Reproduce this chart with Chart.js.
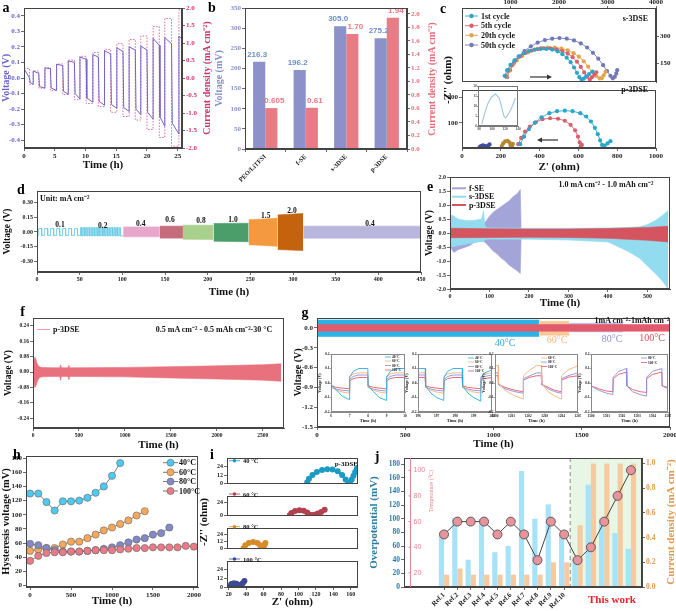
<!DOCTYPE html>
<html>
<head>
<meta charset="utf-8">
<title>Solid electrolyte cycling figure</title>
<script src="https://cdn.jsdelivr.net/npm/chart.js@4.4.1/dist/chart.umd.min.js"></script>
<style>
  html, body { margin: 0; padding: 0; background: #fff; }
  body { position: relative; width: 676px; height: 611px; overflow: hidden; }
  canvas, svg { position: absolute; }
</style>
</head>
<body>
<script>
// ---------- (a) voltage / current density steps ----------
const aXMax = 25.7;
const aTimeTicks = [0, 5, 10, 15, 20, 25];
const aVoltTicks = [-0.4, -0.3, -0.2, -0.1, 0, 0.1, 0.2, 0.3, 0.4];
const aCurTicks = [-2, -1.5, -1, -0.5, 0, 0.5, 1, 1.5, 2];
const aRise  = [0, 1.5, 3.4, 5.3, 7.2, 9.1, 11.2, 13.1, 15.1, 17.1, 19.0, 21.0, 22.9, 25.2];
const aDrop  = [0.9, 2.4, 4.3, 6.3, 8.2, 10.1, 12.1, 14.1, 16.1, 18.1, 20.0, 22.0, 24.0];
const aPosHi = [0.06, 0.045, 0.065, 0.088, 0.11, 0.135, 0.15, 0.175, 0.195, 0.2, 0.205, 0.255, 0.26, 0.27];
const aPosLo = [0.0, 0.03, 0.06, 0.08, 0.1, 0.12, 0.135, 0.155, 0.17, 0.18, 0.18, 0.21, 0.22, 0.25];
const aNegHi = [-0.03, -0.055, -0.065, -0.085, -0.1, -0.13, -0.15, -0.17, -0.19, -0.2, -0.22, -0.25, -0.29];
const aNegLo = [-0.04, -0.065, -0.08, -0.105, -0.135, -0.155, -0.175, -0.195, -0.215, -0.235, -0.265, -0.31, -0.36];
const aCurPos = [0.27, 0.2, 0.29, 0.4, 0.51, 0.62, 0.73, 0.82, 0.98, 1.1, 1.2, 1.47, 1.7, 1.95];
const aCurNeg = [0.18, 0.29, 0.36, 0.47, 0.62, 0.73, 0.82, 0.98, 1.1, 1.2, 1.47, 1.7, 1.95];

// ---------- (b) bars ----------
const bCats = ['PEO/LiTFSI', 'f-SE', 's-3DSE', 'p-3DSE'];
const bVolt = [216.3, 196.2, 305.0, 275.2];
const bCur = [0.605, 0.61, 1.70, 1.94];
const bVoltText = ['216.3', '196.2', '305.0', '275.2'];
const bCurText = ['0.605', '0.61', '1.70', '1.94'];
const bVoltTicks = [0, 50, 100, 150, 200, 250, 300, 350];
const bCurTicks = [0, 0.2, 0.4, 0.6, 0.8, 1.0, 1.2, 1.4, 1.6, 1.8, 2.0];

// ---------- (c) impedance ----------
const cTopXTicks = [1000, 2000, 3000, 4000];
const cTopYTicks = [150, 300];
const cBotXTicks = [0, 200, 400, 600, 800, 1000];
const cBotYTicks = [100, 200];
const cInsXTicks = [80, 100, 120, 140];
const cInsYTicks = [0, 5, 10, 15, 20];
const cTop1 = [[880,78],[930,110],[1000,140],[1080,165],[1170,188],[1270,205],[1380,218],[1500,226],[1620,230],[1740,230],[1860,226],[1970,216],[2070,200],[2160,180],[2240,155],[2310,125],[2370,95],[2420,70],[2465,57],[2510,62],[2560,75],[2620,88],[2690,102]];
const cTop5 = [[900,75],[950,108],[1020,138],[1100,165],[1200,188],[1310,207],[1430,220],[1560,229],[1690,233],[1820,233],[1950,228],[2070,218],[2180,203],[2280,183],[2370,158],[2450,128],[2520,97],[2580,72],[2637,57],[2680,70],[2730,85],[2770,98]];
const cTop20 = [[920,72],[970,106],[1040,137],[1130,165],[1240,190],[1360,210],[1490,225],[1630,234],[1770,238],[1910,238],[2050,232],[2180,222],[2300,206],[2410,186],[2510,160],[2600,130],[2690,100],[2770,77],[2840,64],[2880,64],[2920,80],[2960,100]];
const cTop50 = [[930,70],[990,110],[1070,150],[1170,185],[1290,218],[1420,245],[1560,265],[1710,280],[1860,288],[2010,291],[2160,288],[2310,278],[2450,261],[2580,238],[2700,208],[2810,175],[2910,138],[2990,105],[3060,78],[3110,64],[3150,72],[3180,90],[3200,110]];
const cBot1 = [[300,15],[320,45],[345,75],[375,100],[410,122],[450,138],[490,146],[530,148],[570,146],[610,138],[640,125],[665,105],[685,80],[700,55],[712,30],[722,12],[735,10],[750,18],[765,27]];
const cBot5 = [[290,15],[305,40],[325,65],[350,85],[380,102],[415,114],[454,118],[495,116],[530,108],[560,92],[583,70],[598,45],[607,22],[612,8],[618,12]];
const cBot20 = [[205,8],[212,18],[222,26],[235,28],[245,22],[250,12],[253,6],[258,10],[262,16]];
const cBot50 = [[90,3],[97,8],[107,11],[117,9],[123,4],[128,5],[135,10],[142,14]];
const cIns = [[84,1],[88,6],[93,11],[99,14.5],[105,16],[111,14],[115,9],[118,5],[121,4],[125,6],[130,9],[136,14]];

// ---------- (d) rate steps ----------
const dTimeTicks = [0, 50, 100, 150, 200, 250, 300, 350, 400, 450];
const dVoltTicks = [-0.3, -0.15, 0, 0.15, 0.3];
const d01Rise = [2, 9, 16, 23, 30, 37, 44];
const d01Fall = [5.5, 12.5, 19.5, 26.5, 33.5, 40.5, 47.5];
const d01Hi = 0.035, d01Lo = -0.035;
const d02Rise = [51, 54, 57, 60, 63, 66, 69, 72, 75, 78, 81, 84, 87, 90, 93, 96];
const d02Fall = [52.5, 55.5, 58.5, 61.5, 64.5, 67.5, 70.5, 73.5, 76.5, 79.5, 82.5, 85.5, 88.5, 91.5, 94.5, 97.5];
const d02Hi = 0.045, d02Lo = -0.04;
const dBandStart = [101, 144, 171, 207, 248, 282, 312];
const dBandEnd   = [144, 171, 207, 248, 282, 312, 450];
const dBandHi0 = [0.052, 0.06, 0.07, 0.087, 0.125, 0.175, 0.06];
const dBandHi1 = [0.052, 0.06, 0.07, 0.09, 0.14, 0.19, 0.06];
const dBandLo0 = [-0.05, -0.063, -0.075, -0.095, -0.13, -0.18, -0.063];
const dBandLo1 = [-0.05, -0.063, -0.077, -0.1, -0.147, -0.19, -0.063];
const dRateText = ['0.1', '0.2', '0.4', '0.6', '0.8', '1.0', '1.5', '2.0', '0.4'];

// ---------- (e) long cycling 1.0 mA cm-2 ----------
const eTimeTicks = [0, 100, 200, 300, 400, 500];
const eVoltTicks = [-2, -1.5, -1, -0.5, 0, 0.5, 1, 1.5, 2];
const eFseT  = [0, 5, 10, 20, 30, 40, 50, 60, 70, 80, 85, 90, 100, 110, 120, 130, 140, 150, 160, 170, 178, 180];
const eFseHi = [0.3, 0.35, 0.3, 0.3, 0.3, 0.25, 0.3, 0.3, 0.3, 0.3, 0.35, 0.4, 0.6, 0.75, 0.85, 0.95, 1.05, 1.15, 1.3, 1.4, 1.55, 0.2];
const eFseLo = [-0.4, -0.6, -0.7, -0.6, -0.55, -0.5, -0.45, -0.35, -0.3, -0.3, -0.3, -0.35, -0.5, -0.65, -0.75, -0.9, -1.0, -1.15, -1.25, -1.35, -1.45, -0.2];
const eS3T  = [0, 5, 20, 40, 60, 80, 85, 88, 92, 100, 200, 300, 400, 450, 480, 500, 520, 540, 552];
const eS3Hi = [0.5, 0.65, 0.5, 0.45, 0.45, 0.5, 0.8, 0.3, 0.2, 0.18, 0.17, 0.17, 0.18, 0.2, 0.22, 0.3, 0.45, 0.65, 0.8];
const eS3Lo = [-0.3, -0.5, -0.45, -0.4, -0.35, -0.3, -0.3, -0.25, -0.22, -0.22, -0.22, -0.25, -0.32, -0.65, -0.9, -1.18, -1.45, -1.75, -2.0];
const eP3T  = [0, 100, 200, 300, 400, 500, 552];
const eP3Hi = [0.17, 0.15, 0.14, 0.14, 0.16, 0.2, 0.24];
const eP3Lo = [-0.17, -0.16, -0.15, -0.16, -0.19, -0.26, -0.32];

// ---------- (f) p-3DSE 2700 h ----------
const fTimeTicks = [0, 500, 1000, 1500, 2000, 2500];
const fVoltTicks = [-0.24, -0.16, -0.08, 0, 0.08, 0.16, 0.24];
const fT  = [0, 10, 20, 30, 40, 50, 60, 80, 100, 200, 290, 300, 310, 320, 380, 390, 400, 500, 1000, 1500, 2000, 2500, 2700];
const fHi = [0.02, 0.06, 0.077, 0.07, 0.05, 0.04, 0.03, 0.026, 0.024, 0.022, 0.022, 0.037, 0.022, 0.022, 0.022, 0.035, 0.022, 0.022, 0.024, 0.028, 0.032, 0.038, 0.043];
const fLo = [-0.02, -0.05, -0.08, -0.075, -0.06, -0.045, -0.035, -0.027, -0.025, -0.023, -0.023, -0.043, -0.023, -0.023, -0.023, -0.04, -0.023, -0.023, -0.025, -0.031, -0.036, -0.042, -0.048];

// ---------- (g) temperature cycling ----------
const gTimeTicks = [0, 500, 1000, 1500, 2000];
const gVoltTicks = [-1.5, -1.2, -0.9, -0.6, -0.3, 0];
const g40T = [0, 1260], g40Hi = [0.12, 0.12], g40Lo = [-0.13, -0.13];
const g60T = [1260, 1430], g60Hi = [0.1, 0.1], g60Lo = [-0.11, -0.11];
const g80T = [1430, 1735], g80Hi = [0.07, 0.07], g80Lo = [-0.06, -0.06];
const g100T = [0, 2000], g100Hi = [0.05, 0.05], g100Lo = [-0.05, -0.05];
const gInsVoltTicks = [-0.2, -0.1, 0, 0.1, 0.2];
const ins1Ticks = [6, 7, 8, 9, 10];
const ins1T = [6, 6.3, 6.6, 6.99, 7.01, 7.2, 7.5, 7.99, 8.01, 8.3, 8.6, 8.99, 9.01, 9.2, 9.5, 10];
const ins1V40  = [-0.01, -0.05, -0.09, -0.115, 0.04, 0.08, 0.1, 0.1, -0.02, -0.06, -0.1, -0.12, 0.04, 0.08, 0.1, 0.1];
const ins1V60  = [-0.03, -0.05, -0.062, -0.07, 0.045, 0.062, 0.07, 0.07, -0.03, -0.05, -0.062, -0.07, 0.045, 0.062, 0.07, 0.07];
const ins1V80  = [-0.03, -0.042, -0.05, -0.055, 0.025, 0.045, 0.055, 0.055, -0.03, -0.042, -0.05, -0.055, 0.025, 0.045, 0.055, 0.055];
const ins1V100 = [-0.02, -0.03, -0.035, -0.04, 0.015, 0.03, 0.038, 0.038, -0.02, -0.03, -0.035, -0.04, 0.015, 0.03, 0.038, 0.038];
const ins2Ticks = [196, 197, 198, 199, 200];
const ins2T = [196, 196.39, 196.41, 196.7, 197.0, 197.39, 197.41, 197.6, 197.9, 198.39, 198.41, 198.7, 199.0, 199.39, 199.41, 199.6, 200];
const ins2V40  = [0.1, 0.1, -0.02, -0.07, -0.1, -0.12, 0.04, 0.08, 0.1, 0.1, -0.02, -0.07, -0.1, -0.125, 0.04, 0.07, 0.09];
const ins2V60  = [0.07, 0.07, -0.03, -0.05, -0.062, -0.07, 0.045, 0.062, 0.07, 0.07, -0.03, -0.05, -0.062, -0.07, 0.045, 0.062, 0.07];
const ins2V80  = [0.055, 0.055, -0.03, -0.042, -0.05, -0.055, 0.025, 0.045, 0.055, 0.055, -0.03, -0.042, -0.05, -0.055, 0.025, 0.045, 0.055];
const ins2V100 = [0.038, 0.038, -0.02, -0.03, -0.035, -0.04, 0.015, 0.03, 0.038, 0.038, -0.02, -0.03, -0.035, -0.04, 0.015, 0.03, 0.038];
const ins3Ticks = [1200, 1201, 1202, 1203, 1204, 1205];
const ins3T = [1200, 1200.19, 1200.21, 1200.6, 1201.2, 1201.69, 1201.71, 1202.1, 1202.5, 1202.79, 1202.81, 1203.2, 1203.6, 1203.99, 1204.01, 1204.4, 1205];
const ins3V60  = [0.12, 0.12, 0.0, -0.05, -0.09, -0.11, 0.05, 0.09, 0.12, 0.12, 0.0, -0.06, -0.09, -0.11, 0.05, 0.09, 0.12];
const ins3V80  = [0.07, 0.07, -0.01, -0.04, -0.06, -0.07, 0.03, 0.05, 0.07, 0.07, -0.01, -0.04, -0.06, -0.07, 0.03, 0.05, 0.07];
const ins3V100 = [0.05, 0.05, -0.01, -0.03, -0.05, -0.06, 0.02, 0.04, 0.05, 0.05, -0.01, -0.03, -0.05, -0.06, 0.02, 0.04, 0.05];
const ins4Ticks = [1500, 1501, 1502, 1503, 1504, 1505];
const ins4T = [1500, 1500.5, 1501.0, 1501.42, 1501.44, 1501.8, 1502.3, 1502.32, 1502.7, 1503.2, 1503.59, 1503.61, 1504.0, 1504.6, 1504.62, 1505];
const ins4V80  = [-0.02, -0.05, -0.07, -0.08, 0.04, 0.08, 0.1, -0.02, -0.06, -0.08, -0.09, 0.04, 0.08, 0.1, -0.02, -0.04];
const ins4V100 = [-0.02, -0.04, -0.055, -0.06, 0.03, 0.06, 0.075, -0.02, -0.045, -0.06, -0.065, 0.03, 0.06, 0.075, -0.02, -0.03];

// ---------- (h) hysteresis voltage ----------
const hTimeTicks = [0, 500, 1000, 1500, 2000];
const hVoltTicks = [0, 20, 40, 60, 80, 100, 120, 140, 160, 180];
const hTime = [0, 100, 200, 300, 400, 500, 600, 700, 800, 900, 1000, 1100, 1200, 1300, 1400, 1500, 1600, 1700, 1800, 1900, 2000];
const h40  = [130, 130, 118, 106, 119, 119, 120, 124, 131, 140, 155, 173];
const h60  = [49, 51, 53, 53, 58, 62, 62, 67, 72, 78, 82, 87, 92, 99, 105];
const h80  = [59, 57, 53, 50, 48, 48, 48, 49, 50, 52, 54, 57, 61, 65, 67, 72, 74, 82];
const h100 = [35, 42, 46, 47, 47, 48, 48, 49, 50, 50, 50, 51, 52, 53, 53, 54, 54, 54, 54, 56, 55];

// ---------- (i) impedance vs temperature ----------
const iZTicks = [20, 40, 60, 80, 100, 120, 140, 160];
const iImTicks = [0, 12, 24];
const i40  = [[110,2],[112,7],[116,12],[121,16],[127,19],[133,20],[139,19.5],[145,17],[150,12],[154,6],[157,1],[159,2],[161,6],[163,11],[165,16],[167,21]];
const i60  = [[90,1],[92,5],[96,8.5],[101,10],[106,9],[110,6],[113,2],[115,0.5],[118,2],[122,4],[126,7],[130,11]];
const i80  = [[37,1],[39,6],[43,10],[48,11.5],[53,10],[56,6],[58,2],[59,1],[60,4],[61,7],[62,10]];
const i100 = [[21,1],[23,4],[26,5],[29,4.5],[31,2],[32,1],[34,3],[36,5],[38,8]];

// ---------- (j) comparison with references ----------
const jLabels = ['Ref.1', 'Ref.2', 'Ref.3', 'Ref.4', 'Ref.5', 'Ref.6', 'Ref.7', 'Ref.8', 'Ref.9', 'Ref.10'];
const jIndex = [0, 1, 2, 3, 4, 5, 6, 7, 8, 9, 10, 11, 12, 13, 14];
const jOverpot = [80, 101, 40, 100, 51, 60, 170, 100, 121, 77, 40, 150, 100, 79, 56];
const jCurrent = [0.1, 0.15, 0.1, 0.1, 0.1, 0.1, 0.1, 0.1, 0.2, 0.2, 0.5, 1.0, 1.0, 1.0, 1.0];
const jTemp = [50, 60, 60, 60, 50, 60, 50, 30, 60, 50, 30, 40, 60, 80, 100];
const jThisWorkFrom = 9.45;
const jOverTicks = [0, 20, 40, 60, 80, 100, 120, 140, 160, 180];
const jTempTicks = [20, 40, 60, 80, 100];
const jCurTicks = [0, 0.2, 0.4, 0.6, 0.8, 1.0];

// ================= helpers =================
Chart.defaults.font.family = "'Liberation Serif', 'Times New Roman', serif";
Chart.defaults.font.weight = 'bold';
Chart.defaults.font.size = 7;
Chart.defaults.color = '#222';
Chart.defaults.animation = false;
Chart.defaults.responsive = false;
Chart.defaults.maintainAspectRatio = false;
Chart.defaults.plugins.legend.display = false;
Chart.defaults.plugins.tooltip.enabled = false;
Chart.defaults.elements.point.radius = 0;
Chart.defaults.elements.line.borderWidth = 1;
Chart.defaults.elements.line.tension = 0;

Chart.register({
  id: 'frame',
  defaults: {color: '#444'},
  afterDraw(chart, args, o) {
    const a = chart.chartArea, g = chart.ctx;
    g.save();
    g.strokeStyle = o.color;
    g.lineWidth = 1;
    g.strokeRect(Math.round(a.left) + 0.5, Math.round(a.top) + 0.5, Math.round(a.right - a.left) - 1, Math.round(a.bottom - a.top) - 1);
    g.restore();
  }
});

function canvas(x, y, w, h) {
  const c = document.createElement('canvas');
  c.width = w; c.height = h;
  c.style.left = x + 'px'; c.style.top = y + 'px';
  c.style.width = w + 'px'; c.style.height = h + 'px';
  document.body.appendChild(c);
  return c;
}

function ax(o, size, at) {
  const s = {
    type: 'linear',
    grid: {drawOnChartArea: false, tickLength: 3, color: '#444', lineWidth: 0.8},
    border: {color: '#444', width: 1},
    ticks: {padding: 1, color: '#222', font: {size: 7}},
    title: {display: false, padding: 0, color: '#111', font: {size: 11}}
  };
  Object.keys(o).forEach(k => {
    const v = o[k];
    s[k] = (s[k] && typeof s[k] === 'object' && v && typeof v === 'object' && !Array.isArray(v)) ? Object.assign({}, s[k], v) : v;
  });
  if (s.type !== 'category' && !s.ticks.callback) s.ticks.callback = v => String(v);
  if (o.title && o.title.text) s.title.display = true;
  s.afterFit = sc => {
    if (size !== undefined) { if (sc.isHorizontal()) sc.height = size; else sc.width = size; }
    sc.paddingTop = sc.paddingBottom = sc.paddingLeft = sc.paddingRight = 0;
  };
  if (at) s.afterBuildTicks = sc => { sc.ticks = at.map(v => ({value: v})); };
  return s;
}

const xy = (xs, ys) => ys.map((y, i) => ({x: xs[i], y}));
const pts = arr => arr.map(p => ({x: p[0], y: p[1]}));
const fix = n => v => v.toFixed(n);

function band(xs, hi, lo, color) {
  return [
    {data: xy(xs, hi), fill: '+1', backgroundColor: color, borderColor: color, borderWidth: 0.6},
    {data: xy(xs, lo), fill: false, borderColor: color, borderWidth: 0.6}
  ];
}
function squareSteps(rise, fall, hi, lo) {
  const p = [];
  rise.forEach((r, k) => { p.push({x: r, y: lo}, {x: r, y: hi}, {x: fall[k], y: hi}, {x: fall[k], y: lo}); });
  return p;
}

// ================= (a) =================
const aVColor = '#6a64cf', aIColor = '#d3336e';
const aV = [], aI = [];
for (let k = 0; k < aRise.length; k++) {
  const end = k < aDrop.length ? aDrop[k] : aXMax;
  aV.push({x: aRise[k], y: aPosHi[k]}, {x: end, y: aPosLo[k]});
  aI.push({x: aRise[k], y: aCurPos[k]}, {x: end, y: aCurPos[k]});
  if (k < aDrop.length) {
    aV.push({x: aDrop[k] + 0.12, y: aNegHi[k]}, {x: aRise[k + 1], y: aNegLo[k]});
    aI.push({x: aDrop[k], y: -aCurNeg[k]}, {x: aRise[k + 1], y: -aCurNeg[k]});
  }
}
new Chart(canvas(0, 0, 210, 175), {
  type: 'line',
  data: {datasets: [
    {data: aV, borderColor: '#7264c8', borderWidth: 1, yAxisID: 'y'},
    {data: aI, borderColor: '#e46a9e', borderWidth: 1, borderDash: [1.5, 1.5], yAxisID: 'y2'}
  ]},
  options: {
    layout: {padding: {top: 8}},
    scales: {
      x: ax({min: 0, max: aXMax, title: {text: 'Time (h)', padding: {top: 0, bottom: 3}}}, 27, aTimeTicks),
      y: ax({min: -0.45, max: 0.45, ticks: {color: aVColor, callback: fix(1)}, title: {text: 'Voltage (V)', color: aVColor, font: {size: 10}}}, 24, aVoltTicks),
      y2: ax({position: 'right', min: -2, max: 2, ticks: {color: aIColor, callback: fix(1)}}, 28, aCurTicks)
    }
  }
});

// ================= (b) =================
const barValues = {
  id: 'barValues',
  afterDatasetsDraw(chart) {
    const g = chart.ctx;
    g.save();
    g.font = "bold 8px 'Liberation Sans', Arial, sans-serif";
    g.textAlign = 'center';
    g.textBaseline = 'bottom';
    chart.data.datasets.forEach((ds, i) => {
      chart.getDatasetMeta(i).data.forEach((bar, j) => {
        g.fillStyle = ds.textColor;
        g.fillText(ds.valueText[j], bar.x + ds.textShift, bar.y - 3);
      });
    });
    g.restore();
  }
};
const bVColor = '#8a8fca', bIColor = '#e3707a';
new Chart(canvas(212, 0, 228, 186), {
  type: 'bar',
  data: {labels: bCats, datasets: [
    {data: bVolt, backgroundColor: '#8c91c9', yAxisID: 'y', valueText: bVoltText, textColor: '#6f8fd0', textShift: -2},
    {data: bCur, backgroundColor: '#e77c84', yAxisID: 'y2', valueText: bCurText, textColor: '#f0757e', textShift: 3}
  ]},
  options: {
    layout: {padding: {top: 8}},
    categoryPercentage: 0.6,
    barPercentage: 1,
    scales: {
      x: ax({type: 'category', offset: true, grid: {offset: true}, ticks: {minRotation: 45, maxRotation: 45, autoSkip: false, font: {size: 6.5}}}, 37),
      y: ax({min: 0, max: 350, ticks: {color: bVColor}, title: {text: 'Voltage (mV)', color: bVColor, font: {size: 10}, padding: {top: 1, bottom: 0}}}, 33, bVoltTicks),
      y2: ax({position: 'right', min: 0, max: 2.085, ticks: {color: bIColor, callback: fix(1)}}, 33, bCurTicks)
    }
  },
  plugins: [barValues]
});

// ================= (c) =================
const cCol = ['#2ba6cb', '#d9606e', '#e4a24c', '#7179b8'];
const cLine = (arr, col) => ({data: pts(arr), borderColor: col, backgroundColor: col, borderWidth: 0.9, pointRadius: 2.1, pointBorderWidth: 0});
new Chart(canvas(440, 0, 236, 86), {
  type: 'line',
  data: {datasets: [cLine(cTop1, cCol[0]), cLine(cTop5, cCol[1]), cLine(cTop20, cCol[2]), cLine(cTop50, cCol[3])]},
  options: {
    layout: {padding: {left: 22}},
    scales: {
      x: ax({position: 'top', min: 0, max: 4000, grid: {tickLength: 2}, ticks: {padding: 0}}, 8, cTopXTicks),
      y: ax({position: 'right', min: 43, max: 461}, 20, cTopYTicks)
    }
  }
});
new Chart(canvas(440, 86, 236, 94), {
  type: 'line',
  data: {datasets: [cLine(cBot1, cCol[0]), cLine(cBot5, cCol[1]), cLine(cBot20, '#b8862e'), cLine(cBot50, '#3f4f99')]},
  options: {
    layout: {padding: {right: 20}},
    scales: {
      x: ax({min: 0, max: 1000, title: {text: "Z' (ohm)", padding: {top: 0, bottom: 6}}}, 32, cBotXTicks),
      y: ax({min: 0, max: 230}, 22, cBotYTicks)
    }
  }
});
new Chart(canvas(466, 84, 56, 50), {
  type: 'line',
  data: {datasets: [{data: pts(cIns), borderColor: '#a9c8e8', borderWidth: 1.2}]},
  options: {
    layout: {padding: {top: 2, right: 4}},
    plugins: {frame: {color: '#777'}},
    scales: {
      x: ax({min: 78, max: 140, grid: {tickLength: 1, color: '#777'}, border: {color: '#777'}, ticks: {padding: 0, font: {size: 3.5}, color: '#555'}}, 8, cInsXTicks),
      y: ax({min: 0, max: 20, grid: {tickLength: 1, color: '#777'}, border: {color: '#777'}, ticks: {padding: 0, font: {size: 3.5}, color: '#555'}}, 12, cInsYTicks)
    }
  }
});

// ================= (d) =================
const dBandColors = ['#e7a6cc', '#c66d7b', '#a9d18e', '#4b9d6a', '#f4993f', '#c4620e', '#b9b6dd'];
const dSets = [];
dBandStart.forEach((s, k) => {
  dSets.push(...band([s, dBandEnd[k]], [dBandHi0[k], dBandHi1[k]], [dBandLo0[k], dBandLo1[k]], dBandColors[k]));
});
const dSquare = [{x: 0, y: d01Lo}, ...squareSteps(d01Rise, d01Fall, d01Hi, d01Lo), {x: 50, y: d01Lo},
  ...squareSteps(d02Rise, d02Fall, d02Hi, d02Lo), {x: 101, y: d02Lo}];
dSets.push({data: dSquare, borderColor: '#6ccbe5', borderWidth: 0.9});
new Chart(canvas(0, 180, 430, 125), {
  type: 'line',
  data: {datasets: dSets},
  options: {
    layout: {padding: {top: 11, right: 9}},
    scales: {
      x: ax({min: 0, max: 450, ticks: {font: {size: 6}}, title: {text: 'Time (h)', padding: {top: 0, bottom: 6}}}, 33, dTimeTicks),
      y: ax({min: -0.41, max: 0.42, ticks: {font: {size: 6}, callback: fix(2)}, title: {text: 'Voltage (V)', font: {size: 9.5}, padding: {top: 2, bottom: 0}}}, 37, dVoltTicks)
    }
  }
});

// ================= (e) =================
const eColF = '#a3a5d8', eColS = '#93dcf0', eColP = '#d4545f';
new Chart(canvas(424, 175, 252, 135), {
  type: 'line',
  data: {datasets: [...band(eP3T, eP3Hi, eP3Lo, eColP), ...band(eS3T, eS3Hi, eS3Lo, eColS), ...band(eFseT, eFseHi, eFseLo, eColF)]},
  options: {
    layout: {padding: {top: 2, right: 6}},
    scales: {
      x: ax({min: 0, max: 557, ticks: {font: {size: 6}}, title: {text: 'Time (h)'}}, 21, eTimeTicks),
      y: ax({min: -2, max: 2, ticks: {font: {size: 6}, callback: fix(1)}, title: {text: 'Voltage (V)', font: {size: 9.5}}}, 26, eVoltTicks)
    }
  }
});

// ================= (f) =================
new Chart(canvas(0, 312, 290, 140), {
  type: 'line',
  data: {datasets: band(fT, fHi, fLo, '#e9717e')},
  options: {
    layout: {padding: {top: 6, right: 6}},
    scales: {
      x: ax({min: 0, max: 2730, ticks: {font: {size: 5.5}}, title: {text: 'Time (h)'}}, 24, fTimeTicks),
      y: ax({min: -0.29, max: 0.28, ticks: {font: {size: 5.5}, callback: fix(2)}, title: {text: 'Voltage (V)', font: {size: 9.5}, padding: {top: 3, bottom: 0}}}, 33, fVoltTicks)
    }
  }
});

// ================= (g) =================
const gCol = {c40: '#2cb3e6', c60: '#f8c898', c80: '#b8b8e6', c100: '#e25b6c'};
new Chart(canvas(290, 312, 386, 140), {
  type: 'line',
  data: {datasets: [...band(g100T, g100Hi, g100Lo, gCol.c100), ...band(g80T, g80Hi, g80Lo, gCol.c80),
    ...band(g60T, g60Hi, g60Lo, gCol.c60), ...band(g40T, g40Hi, g40Lo, gCol.c40)]},
  options: {
    layout: {padding: {top: 6, right: 6}},
    scales: {
      x: ax({min: 0, max: 2000, title: {text: 'Time (h)', padding: {top: 0, bottom: 1}}}, 25, gTimeTicks),
      y: ax({min: -1.5, max: 0.15, ticks: {callback: fix(1)}, title: {text: 'Voltage (V)', font: {size: 10}, padding: {top: 2, bottom: 0}}}, 27, gVoltTicks)
    }
  }
});
const insCol = {c40: '#27aee3', c60: '#f5b27a', c80: '#8c8fd8', c100: '#e5576b'};
function inset(left, width, xMin, xMax, xTicks, times, series) {
  const small = {size: 3.5};
  new Chart(canvas(left, 349, width, 75), {
    type: 'line',
    data: {datasets: series.map(s => ({data: xy(times, s[0]), borderColor: s[1], borderWidth: 0.9}))},
    options: {
      layout: {padding: {top: 5, right: 3}},
      plugins: {frame: {color: '#888'}},
      scales: {
        x: ax({min: xMin, max: xMax, grid: {tickLength: 1.5, color: '#888'}, border: {color: '#888'}, ticks: {padding: 0, font: small},
          title: {text: 'Time (h)', font: {size: 4.5}}}, 12, xTicks),
        y: ax({min: -0.2, max: 0.2, grid: {tickLength: 1.5, color: '#888'}, border: {color: '#888'}, ticks: {padding: 0, font: small, callback: fix(1)},
          title: {text: 'Voltage (V)', font: {size: 4}}}, 13, gInsVoltTicks)
      }
    }
  });
}
inset(318, 90, 6, 10, ins1Ticks, ins1T, [[ins1V40, insCol.c40], [ins1V60, insCol.c60], [ins1V80, insCol.c80], [ins1V100, insCol.c100]]);
inset(405, 90, 196, 200, ins2Ticks, ins2T, [[ins2V40, insCol.c40], [ins2V60, insCol.c60], [ins2V80, insCol.c80], [ins2V100, insCol.c100]]);
inset(482, 99, 1200, 1205, ins3Ticks, ins3T, [[ins3V60, insCol.c60], [ins3V80, insCol.c80], [ins3V100, insCol.c100]]);
inset(578, 93, 1500, 1505, ins4Ticks, ins4T, [[ins4V80, insCol.c80], [ins4V100, insCol.c100]]);

// ================= (h) =================
const hCol = ['#4ec9ef', '#f6a85a', '#8488c6', '#ea7a85'];
const hLine = (vals, col) => ({data: xy(hTime, vals), borderColor: '#555', borderWidth: 0.8, pointRadius: 3.6,
  pointBackgroundColor: col, pointBorderColor: '#666', pointBorderWidth: 0.6});
new Chart(canvas(0, 450, 205, 161), {
  type: 'line',
  data: {datasets: [hLine(h100, hCol[3]), hLine(h80, hCol[2]), hLine(h60, hCol[1]), hLine(h40, hCol[0])]},
  options: {
    layout: {padding: {top: 6, right: 7}},
    scales: {
      x: ax({min: -50, max: 2050, title: {text: 'Time (h)', padding: {top: 0, bottom: 3}}}, 24, hTimeTicks),
      y: ax({min: -2, max: 183, title: {text: 'Hysteresis voltage (mV)', font: {size: 10.5}}}, 26, hVoltTicks)
    }
  }
});

// ================= (i) =================
const iRows = [
  {top: 452, h: 38, pad: 5, data: i40, col: '#1c9ac4'},
  {top: 490, h: 32, pad: 0, data: i60, col: '#b3404f'},
  {top: 522, h: 33, pad: 0, data: i80, col: '#d88b2a'},
  {top: 555, h: 56, pad: 0, data: i100, col: '#3b4a93', last: true}
];
iRows.forEach(r => {
  new Chart(canvas(212, r.top, 152, r.h), {
    type: 'line',
    data: {datasets: [{data: pts(r.data), borderColor: r.col, backgroundColor: r.col, borderWidth: 2.2, pointRadius: 1.9}]},
    options: {
      layout: {padding: {top: r.pad, right: 3}},
      scales: {
        x: r.last ? ax({min: 18, max: 168, ticks: {font: {size: 6}}, title: {text: "Z' (ohm)", padding: {top: 0, bottom: 2}}}, 24, iZTicks)
                  : ax({min: 18, max: 168, display: false}),
        y: ax({min: 0, max: 35, ticks: {font: {size: 6}}}, 15, iImTicks)
      }
    }
  });
});

// ================= (j) =================
const jBlue = '#2c7ca6', jOrange = '#e39a4a', jPink = '#e8848f';
const highlight = {
  id: 'highlight',
  beforeDatasetsDraw(chart) {
    const a = chart.chartArea, g = chart.ctx, x0 = chart.scales.x.getPixelForValue(jThisWorkFrom);
    g.save();
    g.fillStyle = 'rgba(214, 240, 208, 0.55)';
    g.fillRect(x0, a.top, a.right - x0, a.bottom - a.top);
    g.setLineDash([4, 3]);
    g.strokeStyle = '#8a8a8a';
    g.beginPath(); g.moveTo(x0, a.top); g.lineTo(x0, a.bottom); g.stroke();
    g.restore();
  }
};
const innerAxis = {
  id: 'innerAxis',
  afterDraw(chart) {
    const sc = chart.scales.yT, a = chart.chartArea, g = chart.ctx, x = Math.round(a.left) + 6.5;
    g.save();
    g.strokeStyle = jPink; g.fillStyle = jPink; g.lineWidth = 1;
    g.beginPath(); g.moveTo(x, a.top); g.lineTo(x, a.bottom); g.stroke();
    g.font = "7px 'Liberation Sans', Arial, sans-serif";
    g.textBaseline = 'middle'; g.textAlign = 'left';
    jTempTicks.forEach(v => {
      const y = sc.getPixelForValue(v);
      g.beginPath(); g.moveTo(x - 2, y); g.lineTo(x, y); g.stroke();
      g.fillText(String(v), x + 3, y);
    });
    g.restore();
  }
};
new Chart(canvas(366, 450, 310, 161), {
  type: 'bar',
  data: {datasets: [
    {type: 'line', data: xy(jIndex, jTemp), yAxisID: 'yT', borderColor: '#444', borderWidth: 1, pointRadius: 4.5,
      pointBackgroundColor: '#e8949c', pointBorderColor: '#444', pointBorderWidth: 0.8, order: 0},
    {data: xy(jIndex, jOverpot), backgroundColor: '#a7e3f8', yAxisID: 'y', order: 2},
    {data: xy(jIndex, jCurrent), backgroundColor: '#f6caa0', yAxisID: 'y2', order: 2}
  ]},
  options: {
    layout: {padding: {top: 8}},
    categoryPercentage: 0.78,
    barPercentage: 1,
    scales: {
      x: ax({min: -3, max: 14.83, offset: false, grid: {offset: false},
        ticks: {minRotation: 45, maxRotation: 45, autoSkip: false, callback: v => jLabels[v] || ''}}, 24, jIndex.slice(0, 10)),
      y: ax({min: 0, max: 189, ticks: {color: jBlue, font: {size: 7.5}}, title: {text: 'Overpotential (mV)', color: jBlue, padding: {top: 2, bottom: 0}}}, 38, jOverTicks),
      yT: ax({display: false, min: 9.1, max: 109.5}),
      y2: ax({position: 'right', min: 0, max: 1.045, ticks: {color: jOrange, font: {size: 7.5}, callback: fix(1)}}, 34, jCurTicks)
    }
  },
  plugins: [highlight, innerAxis]
});

// ================= text overlay =================
const parts = [];
function T(text, x, y, size, color, o = {}) {
  parts.push(`<text x="${x}" y="${y}" font-size="${size}" fill="${color || '#111'}" text-anchor="${o.anchor || 'middle'}" dominant-baseline="central" font-weight="${o.weight || 'bold'}" font-family="${o.family || 'Liberation Serif, serif'}"${o.rot ? ` transform="rotate(${o.rot} ${x} ${y})"` : ''}>${text}</text>`);
}
function L(x1, y1, x2, y2, color, w) {
  parts.push(`<line x1="${x1}" y1="${y1}" x2="${x2}" y2="${y2}" stroke="${color}" stroke-width="${w || 1}"/>`);
}
function C(x, y, r, fill, stroke) {
  parts.push(`<circle cx="${x}" cy="${y}" r="${r}" fill="${fill}"${stroke ? ` stroke="${stroke}" stroke-width="0.6"` : ''}/>`);
}
function arrow(x1, x2, y) {
  const d = x2 > x1 ? -1 : 1;
  L(x1, y, x2 + d * 3, y, '#333', 1.2);
  parts.push(`<polygon points="${x2},${y} ${x2 + d * 5},${y - 2.5} ${x2 + d * 5},${y + 2.5}" fill="#333"/>`);
}

// panel letters
[['a', 6, 7], ['b', 212, 7], ['c', 443, 8], ['d', 21, 189], ['e', 430, 186], ['f', 22.5, 311],
 ['g', 305, 312], ['h', 17, 454], ['i', 212, 454], ['j', 377, 456]].forEach(p => T(p[0], p[1], p[2], 14, '#000'));

// right-hand axis titles (read bottom to top)
T('Current density (mA cm⁻²)', 206, 78, 10, aIColor, {rot: -90});
T('Current density (mA cm⁻²)', 431, 79, 10, bIColor, {rot: -90});
T('Current density (mA cm⁻²)', 670, 522, 11, jOrange, {rot: -90});

// (c)
T("-Z'' (ohm)", 447, 80, 11, '#111', {rot: -90});
['1st cycle', '5th cycle', '20th cycle', '50th cycle'].forEach((s, k) => {
  const y = [16, 25.7, 35.3, 45][k];
  L(465, y, 478, y, cCol[k], 0.9); C(471.5, y, 2.2, cCol[k]);
  T(s, 481, y, 8, '#111', {anchor: 'start'});
});
T('s-3DSE', 648, 18, 8, '#111', {anchor: 'end'});
T('p-3DSE', 648, 89.5, 8, '#111', {anchor: 'end'});
arrow(530, 552, 77);
arrow(558, 537, 140);

// (d)
T('Unit: mA cm⁻²', 40, 198, 8, '#111', {anchor: 'start'});
[[60, 224], [102.7, 225], [140.7, 223], [170, 219], [201, 220], [233, 219], [265.7, 215], [292, 210], [370, 223]]
  .forEach((p, k) => T(dRateText[k], p[0], p[1], 7.5, '#111'));

// (e)
[['f-SE', eColF, 188.3], ['s-3DSE', eColS, 196.7], ['p-3DSE', eColP, 205]].forEach(s => {
  L(452, s[2], 466, s[2], s[1], 2); T(s[0], 469, s[2], 8, '#111', {anchor: 'start'});
});
T('1.0 mA cm⁻²  -  1.0 mAh cm⁻²', 606, 184.5, 8, '#111');

// (f)
L(37, 329.5, 50, 329.5, '#e9a0a8', 1);
T('p-3DSE', 53, 329.5, 8, '#111', {anchor: 'start'});
T('0.5 mA cm⁻² - 0.5 mAh cm⁻²-30 °C', 214, 329.5, 8, '#111');

// (g)
T('1mA cm⁻²-1mAh cm⁻²', 632, 320.5, 8, '#111');
T('40°C', 505, 342, 10, '#2aace2', {weight: 'normal'});
T('60°C', 557, 339, 10, '#f5b77e', {weight: 'normal'});
T('80°C', 612, 338, 10, '#8b8fd8', {weight: 'normal'});
T('100°C', 652, 337, 10, '#e24a5c', {weight: 'normal'});
function insLegend(x, ys, items) {
  items.forEach((it, k) => { L(x, ys[k], x + 6, ys[k], it[1], 0.8); T(it[0], x + 7, ys[k], 3.5, '#222', {anchor: 'start'}); });
}
insLegend(385, [357, 361, 365.5, 370], [['40°C', insCol.c40], ['60°C', insCol.c60], ['80°C', insCol.c80], ['100°C', insCol.c100]]);
insLegend(468, [358, 362, 366.5, 371], [['40°C', insCol.c40], ['60°C', insCol.c60], ['80°C', insCol.c80], ['100°C', insCol.c100]]);
insLegend(541, [358, 362, 366.5], [['60°C', insCol.c60], ['80°C', insCol.c80], ['100°C', insCol.c100]]);
insLegend(641, [358, 362.5], [['80°C', insCol.c80], ['100°C', insCol.c100]]);

// (h)
['40°C', '60°C', '80°C', '100°C'].forEach((s, k) => {
  const y = [462.7, 472.3, 481.5, 491][k];
  L(163, y, 178, y, '#555', 0.8); C(170.5, y, 3.5, hCol[k], '#666');
  T(s, 179, y, 8, '#111', {anchor: 'start'});
});

// (i)
T("-Z'' (ohm)", 203, 522, 11, '#111', {rot: -90});
T('p-3DSE', 358, 463.5, 7, '#111', {anchor: 'end'});
[['40 °C', 460.7], ['60 °C', 494], ['80 °C', 526.7], ['100 °C', 559]].forEach((s, k) => {
  L(229, s[1], 240, s[1], iRows[k].col, 0.8); C(234.5, s[1], 1.8, iRows[k].col);
  T(s[0], 243, s[1], 6.5, '#111', {anchor: 'start'});
});

// (j)
T('This work', 612, 599, 11, '#e8202a');
T('Temperature (°C)', 431, 491, 6, jPink, {rot: -90, weight: 'normal'});

document.body.insertAdjacentHTML('beforeend',
  `<svg width="676" height="611" viewBox="0 0 676 611" xmlns="http://www.w3.org/2000/svg" style="left:0;top:0">${parts.join('')}</svg>`);
</script>
</body>
</html>
